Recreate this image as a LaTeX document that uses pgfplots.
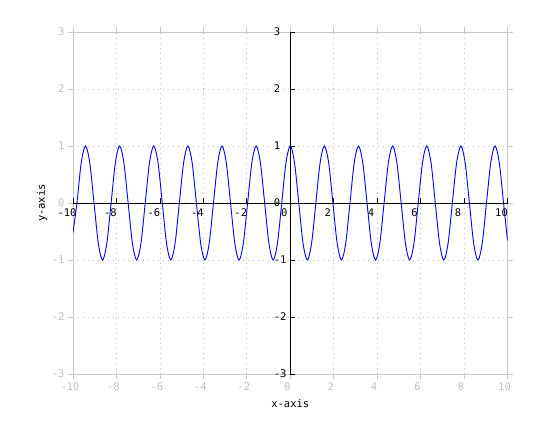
\documentclass[border=0pt]{standalone}
\usepackage{pgfplots}
\pgfplotsset{compat=1.18}
\usepackage{fontspec}
\setmainfont{DejaVu Sans Mono}
\setmonofont{DejaVu Sans Mono}
\usetikzlibrary{calc}
\definecolor{boxgray}{RGB}{200,200,200}
\definecolor{labgray}{RGB}{192,192,192}
\begin{document}
\begin{tikzpicture}[font=\fontsize{10.5}{12}\selectfont]
\begin{axis}[name=ax,
  scale only axis, width=434.5pt, height=342pt,
  xmin=-10, xmax=10, ymin=-3, ymax=3,
  xtick={-10,-8,...,10}, ytick={-3,-2,...,3},
  /pgf/number format/assume math mode=true,
  axis line style={boxgray, line width=0.8pt},
  tick style={boxgray, line width=0.8pt},
  tick align=outside, major tick length=5pt,
  grid=major, grid style={labgray, dash pattern=on 0.8pt off 4.2pt, line width=0.8pt},
  xticklabel style={labgray, xshift=-3pt},
  yticklabel style={labgray},
  xlabel={x-axis}, ylabel={y-axis},
  xlabel style={at={(axis description cs:0.5,0)}, anchor=center, yshift=-30pt},
  ylabel style={at={(axis description cs:0,0.5)}, anchor=center, yshift=31pt},
]
\addplot[blue, line width=0.9pt, smooth] coordinates {
(-10,-0.52)
(-9.8175,0) (-9.6211,0.7071) (-9.4248,1) (-9.2284,0.7071) (-9.0321,0)
(-8.8357,-0.7071) (-8.6394,-1) (-8.4430,-0.7071) (-8.2467,0) (-8.0503,0.7071)
(-7.8540,1) (-7.6576,0.7071) (-7.4613,0) (-7.2649,-0.7071) (-7.0686,-1)
(-6.8722,-0.7071) (-6.6759,0) (-6.4795,0.7071) (-6.2832,1) (-6.0868,0.7071)
(-5.8905,0) (-5.6941,-0.7071) (-5.4978,-1) (-5.3014,-0.7071) (-5.1051,0)
(-4.9087,0.7071) (-4.7124,1) (-4.5160,0.7071) (-4.3197,0) (-4.1233,-0.7071)
(-3.9270,-1) (-3.7306,-0.7071) (-3.5343,0) (-3.3379,0.7071) (-3.1416,1)
(-2.9452,0.7071) (-2.7489,0) (-2.5525,-0.7071) (-2.3562,-1) (-2.1598,-0.7071)
(-1.9635,0) (-1.7671,0.7071) (-1.5708,1) (-1.3744,0.7071) (-1.1781,0)
(-0.9817,-0.7071) (-0.7854,-1) (-0.5890,-0.7071) (-0.3927,0) (-0.1963,0.7071)
(0,1)
(0.1963,0.7071) (0.3927,0) (0.5890,-0.7071) (0.7854,-1) (0.9817,-0.7071)
(1.1781,0) (1.3744,0.7071) (1.5708,1) (1.7671,0.7071) (1.9635,0)
(2.1598,-0.7071) (2.3562,-1) (2.5525,-0.7071) (2.7489,0) (2.9452,0.7071)
(3.1416,1) (3.3379,0.7071) (3.5343,0) (3.7306,-0.7071) (3.9270,-1)
(4.1233,-0.7071) (4.3197,0) (4.5160,0.7071) (4.7124,1) (4.9087,0.7071)
(5.1051,0) (5.3014,-0.7071) (5.4978,-1) (5.6941,-0.7071) (5.8905,0)
(6.0868,0.7071) (6.2832,1) (6.4795,0.7071) (6.6759,0) (6.8722,-0.7071)
(7.0686,-1) (7.2649,-0.7071) (7.4613,0) (7.6576,0.7071) (7.8540,1)
(8.0503,0.7071) (8.2467,0) (8.4430,-0.7071) (8.6394,-1) (8.8357,-0.7071)
(9.0321,0) (9.2284,0.7071) (9.4248,1) (9.6211,0.7071) (9.8175,0)
(10,-0.66)
};
\end{axis}
\begin{axis}[
  scale only axis, width=434.5pt, height=342pt,
  xmin=-10, xmax=10, ymin=-3, ymax=3,
  axis lines=middle,
  axis line style={black, line width=0.8pt, -},
  xtick={-10,-8,...,10}, ytick={-3,-2,...,3},
  /pgf/number format/assume math mode=true,
  hide obscured x ticks=false, hide obscured y ticks=false,
  tick style={black, line width=0.8pt},
  tick align=inside, major tick length=5pt,
  xticklabel style={black, xshift=-6pt, yshift=-2pt},
  yticklabel style={black, anchor=west, xshift=-20pt},
]
\end{axis}
\path ($(ax.south west)+(-73pt,-46pt)$) rectangle ($(ax.north east)+(52.5pt,32pt)$);
\end{tikzpicture}
\end{document}
